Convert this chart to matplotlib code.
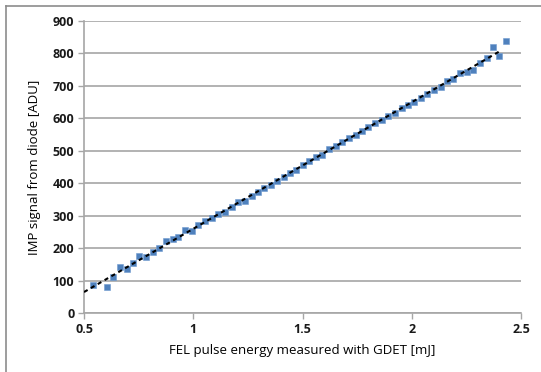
import numpy as np
import matplotlib
matplotlib.use("Agg")
import matplotlib.pyplot as plt
from matplotlib.lines import Line2D

# FEL pulse energy (GDET) [mJ] vs IMP diode signal [ADU]
energy_mj = [0.543, 0.604, 0.634, 0.665, 0.695, 0.723, 0.753, 0.784, 0.814, 0.845,
             0.875, 0.906, 0.932, 0.962, 0.993, 1.023, 1.054, 1.084, 1.115, 1.145,
             1.176, 1.206, 1.237, 1.268, 1.298, 1.324, 1.354, 1.385, 1.415, 1.445,
             1.470, 1.504, 1.531, 1.562, 1.591, 1.623, 1.652, 1.682, 1.713, 1.743,
             1.772, 1.801, 1.832, 1.862, 1.893, 1.923, 1.954, 1.984, 2.010, 2.041,
             2.071, 2.102, 2.132, 2.163, 2.190, 2.221, 2.252, 2.282, 2.312, 2.343,
             2.373, 2.401, 2.432]
signal_adu = [86, 81, 112, 142, 137, 155, 175, 173, 189, 199,
              221, 227, 233, 255, 252, 271, 284, 293, 304, 312,
              327, 341, 346, 360, 373, 384, 396, 407, 419, 431,
              442, 457, 468, 480, 488, 504, 515, 528, 538, 550,
              562, 573, 586, 596, 607, 616, 631, 640, 650, 662,
              674, 686, 698, 714, 722, 739, 742, 750, 770, 786,
              820, 791, 838]

x_ticks = [0.5, 1, 1.5, 2, 2.5]
y_ticks = list(range(0, 901, 100))

plt.rcParams['font.family'] = ['Open Sans', 'DejaVu Sans']

fig = plt.figure(figsize=(5.41, 3.72), dpi=100)
ax = fig.add_axes([0.1553, 0.1586, 0.8077, 0.785])

grid_col = "#a6a6a6"
ax.set_xlim(0.5, 2.5)
ax.set_ylim(0, 900)
ax.set_xticks(x_ticks)
ax.set_xticklabels(["0.5", "1", "1.5", "2", "2.5"])
ax.set_yticks(y_ticks)
ax.grid(axis="y", color=grid_col, linewidth=1.2)
ax.set_axisbelow(True)

for side in ["top", "right"]:
    ax.spines[side].set_visible(False)
for side in ["left", "bottom"]:
    ax.spines[side].set_color(grid_col)
    ax.spines[side].set_linewidth(1.2)
ax.tick_params(axis="both", direction="out", length=4, width=1, color=grid_col,
               labelsize=9, pad=3)
for lab in ax.get_xticklabels() + ax.get_yticklabels():
    lab.set_fontweight("bold")
    lab.set_color("#1a1a1a")

x = np.array(energy_mj)
y = np.array(signal_adu)
ax.scatter(x, y, marker="s", s=17, color="#4f81bd", edgecolors="#6f9bd0",
           linewidths=0.4, zorder=3, clip_on=False)

# linear trendline
slope, intercept = np.polyfit(x, y, 1)
xl = np.array([0.5, 2.41])
ax.plot(xl, slope * xl + intercept, color="black", linestyle=(0, (2, 1.8)),
        linewidth=1.5, zorder=4)

ax.set_xlabel("FEL pulse energy measured with GDET [mJ]", fontsize=9.5, labelpad=6)
ax.set_ylabel("IMP signal from diode [ADU]", fontsize=9.5, labelpad=8)

# outer frame (left and top edges visible)
fig.add_artist(Line2D([6 / 541, 6 / 541], [0.0, 1 - 6 / 372], color="#8c8c8c",
                      linewidth=1.2, transform=fig.transFigure))
fig.add_artist(Line2D([6 / 541, 1.0], [1 - 6 / 372, 1 - 6 / 372], color="#8c8c8c",
                      linewidth=1.2, transform=fig.transFigure))

fig.savefig("out.png", dpi=100)
